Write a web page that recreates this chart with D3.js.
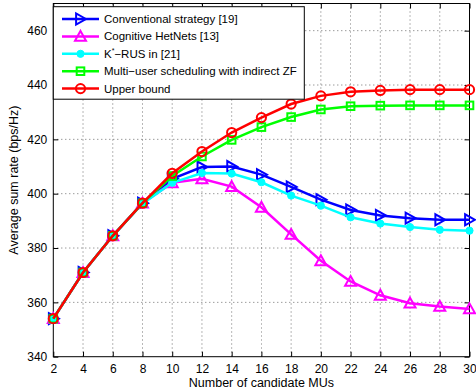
<!DOCTYPE html>
<html><head><meta charset="utf-8">
<script src="https://cdn.jsdelivr.net/npm/d3@7"></script>
<style>
html,body{margin:0;padding:0;background:#fff;}
text{font-family:"Liberation Sans",Arial,Helvetica,sans-serif;}
</style></head>
<body>
<svg id="chart" width="476" height="391"></svg>
<script>
const xValues = [2,4,6,8,10,12,14,16,18,20,22,24,26,28,30];
const conventional = [354,371,384.5,396.5,405.5,409.8,410,407,402.5,397.8,394,392,391,390.4,390.4];
const cognitive = [354,371,384.5,396.5,404,405.5,402.6,395,385,375.3,367.7,362.6,359.7,358.5,357.6];
const krus = [354,371,384.5,396.3,404,407.6,407.4,404.2,399.3,395.6,391.3,389,387.7,386.7,386.4];
const multiuser = [354,371,384.5,396.5,406.5,413.7,419.8,424.5,428.2,431,432.2,432.4,432.5,432.5,432.5];
const upper = [354,371,384.5,396.5,407.5,415.5,422.5,428,433,436,437.5,438,438.3,438.3,438.3];
const xTicks = [2,4,6,8,10,12,14,16,18,20,22,24,26,28,30];
const yTicks = [340,360,380,400,420,440,460];
const seriesNames = ["Conventional strategy [19]","Cognitive HetNets [13]","K*\u2212RUS in [21]","Multi\u2212user scheduling with indirect ZF","Upper bound"];

const series = [
  {name: seriesNames[0], values: conventional, color: "#0000ff", marker: "tri-right"},
  {name: seriesNames[1], values: cognitive, color: "#ff00ff", marker: "tri-up"},
  {name: seriesNames[2], values: krus, color: "#00ffff", marker: "dot"},
  {name: seriesNames[3], values: multiuser, color: "#00ff00", marker: "square"},
  {name: seriesNames[4], values: upper, color: "#ff0000", marker: "circle"}
];

const svg = d3.select("#chart");
const L = 53.3, R = 469.5, T = 3.5, B = 356.7;
const x = d3.scaleLinear().domain([2,30]).range([L,R]);
const y = d3.scaleLinear().domain([340,470]).range([B,T]);

// grid
const grid = svg.append("g");
xTicks.slice(1,-1).forEach(t=>{
  grid.append("line").attr("x1",x(t)).attr("x2",x(t)).attr("y1",T).attr("y2",B)
    .attr("stroke","#000").attr("stroke-width",0.8).attr("stroke-dasharray","1,3").attr("opacity",0.7);
});
yTicks.slice(1).forEach(t=>{
  grid.append("line").attr("x1",L).attr("x2",R).attr("y1",y(t)).attr("y2",y(t))
    .attr("stroke","#000").attr("stroke-width",0.8).attr("stroke-dasharray","1,3").attr("opacity",0.7);
});

// axes
const xAxis = d3.axisBottom(x).tickValues(xTicks).tickSize(-5).tickPadding(8).tickFormat(d3.format("d"));
const yAxis = d3.axisLeft(y).tickValues(yTicks).tickSize(-5).tickPadding(6).tickFormat(d3.format("d"));
const gx = svg.append("g").attr("transform",`translate(0,${B})`).call(xAxis);
const gy = svg.append("g").attr("transform",`translate(${L},0)`).call(yAxis);
const gxt = svg.append("g").attr("transform",`translate(0,${T})`).call(d3.axisTop(x).tickValues(xTicks).tickSize(-5).tickFormat(""));
const gyr = svg.append("g").attr("transform",`translate(${R},0)`).call(d3.axisRight(y).tickValues(yTicks).tickSize(-5).tickFormat(""));
[gx,gy,gxt,gyr].forEach(g=>{
  g.select(".domain").remove();
  g.selectAll("line").attr("stroke","#000");
  g.selectAll("text").attr("fill","#000").style("font-size","12px").style("font-family","'Liberation Sans',Arial,sans-serif");
});
svg.append("rect").attr("x",L).attr("y",T).attr("width",R-L).attr("height",B-T)
  .attr("fill","none").attr("stroke","#000").attr("stroke-width",1);

// labels
svg.append("text").attr("x",(L+R)/2).attr("y",387).attr("text-anchor","middle")
  .style("font-size","12.5px").text("Number of candidate MUs");
svg.append("text").attr("transform",`translate(18,${(T+B)/2}) rotate(-90)`).attr("text-anchor","middle")
  .style("font-size","12.5px").text("Average sum rate (bps/Hz)");

function drawMarker(g, type, cx, cy, color){
  if(type==="circle"){
    g.append("circle").attr("cx",cx).attr("cy",cy).attr("r",4.6).attr("fill","none").attr("stroke",color).attr("stroke-width",2);
  } else if(type==="dot"){
    g.append("circle").attr("cx",cx).attr("cy",cy).attr("r",3.6).attr("fill",color).attr("stroke",color).attr("stroke-width",1);
  } else if(type==="square"){
    g.append("rect").attr("x",cx-3.8).attr("y",cy-3.8).attr("width",7.6).attr("height",7.6).attr("fill","none").attr("stroke",color).attr("stroke-width",2);
  } else if(type==="tri-up"){
    const s=5.5;
    g.append("path").attr("d",`M${cx},${cy-s}L${cx+s},${cy+s*0.8}L${cx-s},${cy+s*0.8}Z`).attr("fill","none").attr("stroke",color).attr("stroke-width",2);
  } else if(type==="tri-right"){
    const s=5.5;
    g.append("path").attr("d",`M${cx+s},${cy}L${cx-s*0.8},${cy-s}L${cx-s*0.8},${cy+s}Z`).attr("fill","none").attr("stroke",color).attr("stroke-width",2);
  }
}

const line = d3.line().x(d=>x(d[0])).y(d=>y(d[1]));
series.forEach(s=>{
  const g = svg.append("g");
  const pts = xValues.map((xv,i)=>[xv,s.values[i]]);
  g.append("path").attr("d",line(pts)).attr("fill","none").attr("stroke",s.color).attr("stroke-width",2.5);
  pts.forEach(p=>drawMarker(g,s.marker,x(p[0]),y(p[1]),s.color));
});

// legend
const lg = svg.append("g");
lg.append("rect").attr("x",53.3).attr("y",6.7).attr("width",251).attr("height",92.5)
  .attr("fill","#fff").attr("stroke","#000").attr("stroke-width",1);
series.forEach((s,i)=>{
  const ly = 19 + i*17.4;
  lg.append("line").attr("x1",62).attr("x2",99).attr("y1",ly).attr("y2",ly).attr("stroke",s.color).attr("stroke-width",2.5);
  drawMarker(lg,s.marker,80.5,ly,s.color);
  const t = lg.append("text").attr("x",104).attr("y",ly+4).style("font-size","11.5px").attr("fill","#000");
  if(i===2){
    t.append("tspan").text("K");
    t.append("tspan").attr("dy",-5).style("font-size","7px").text("*");
    t.append("tspan").attr("dy",5).text("\u2212RUS in [21]");
  } else {
    t.text(s.name);
  }
});
</script>
</body></html>
